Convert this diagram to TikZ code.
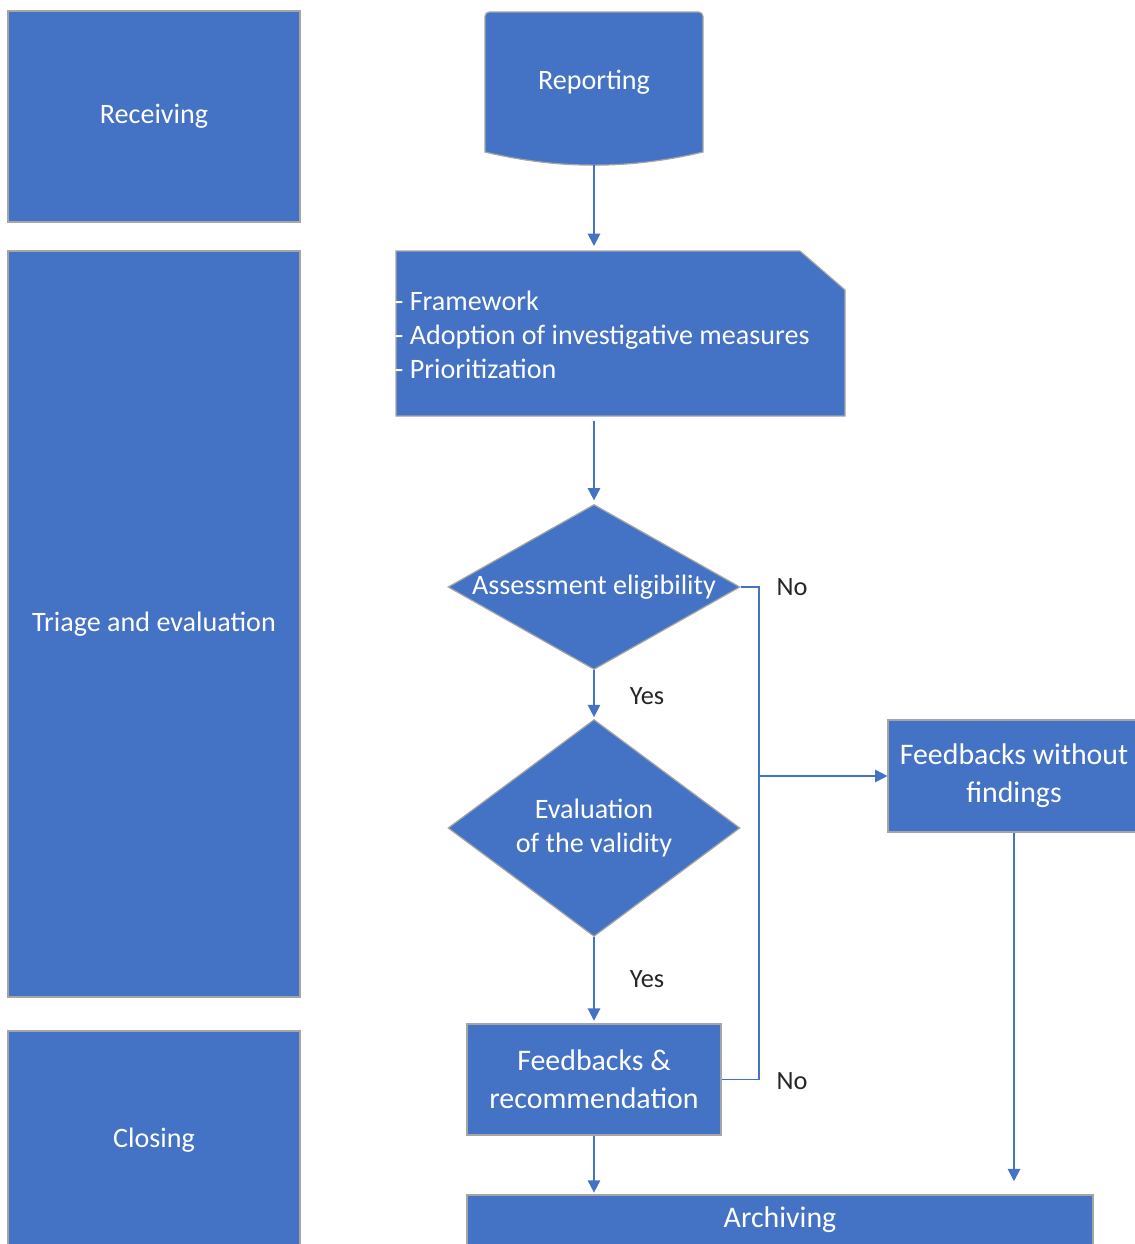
\documentclass[tikz,border=0pt]{standalone}
\usepackage{fontspec}
\setmainfont{Carlito}
\usetikzlibrary{shapes.geometric,arrows.meta}
\definecolor{boxblue}{HTML}{4472C4}
\definecolor{lineblue}{HTML}{4472C4}
\definecolor{boxline}{HTML}{A5A5A5}
\definecolor{lbltext}{HTML}{262626}
\newcommand\fsMain{\fontsize{16}{19.3}\selectfont}
\newcommand\fsBig{\fontsize{17}{21.5}\selectfont}
\newcommand\fsLbl{\fontsize{15}{18}\selectfont}
\tikzset{
  shapebox/.style={draw=boxline, fill=boxblue, line width=0.7pt},
  box/.style={shapebox, text=white, font=\fsMain, align=center, inner sep=0pt},
  lane/.style={box, minimum width=5.84cm},
  bigbox/.style={box, font=\fsBig},
  decision/.style={box, diamond, minimum width=5.84cm},
  plaintext/.style={text=white, font=\fsMain, inner sep=0pt},
  lbl/.style={text=lbltext, font=\fsLbl, inner sep=0pt},
  line/.style={draw=lineblue, line width=1.1pt},
  conn/.style={line, -{Triangle[length=7pt,width=7pt]}}
}
\begin{document}
\begin{tikzpicture}[x=0.02cm, y=-0.02cm]
\useasboundingbox (0,0) rectangle (1135,1244);
\clip (0,0) rectangle (1135,1244);

% lanes
\node[lane, minimum height=4.22cm] (recv) at (154,116.5) {Receiving};
\node[lane, minimum height=14.92cm] (triage) at (154,624) {Triage and evaluation};
\node[lane, minimum height=4.36cm] (closing) at (154,1140) {Closing};

% Reporting (document-like shape)
\filldraw[shapebox] [rounded corners=2.5pt] (485,152) -- (485,12) -- (703,12) [sharp corners] -- (703,152)
  .. controls (630,169.5) and (558,169.5) .. (485,152) -- cycle;
\node[plaintext] (rep) at (594,82) {Reporting};
\coordinate (repb) at (594,165);

% Framework box with cut corner
\filldraw[shapebox] (396,251) -- (800,251) -- (845,290) -- (845,416) -- (396,416) -- cycle;
\node[plaintext, anchor=west, align=left, font=\fsMain] (fw) at (394.5,335)
  {- Framework\\- Adoption of investigative measures\\- Prioritization};
\coordinate (fwt) at (594,246);
\coordinate (fwb) at (594,421);

% decisions
\node[decision, aspect=1.77, minimum height=3.3cm] (d1) at (594,587) {Assessment eligibility};
\node[decision, aspect=1.345, minimum height=4.34cm, font=\fontsize{16}{19.8}\selectfont] (d2) at (594,828) {Evaluation\\of the validity};

% outcome boxes
\node[bigbox, minimum width=5.08cm, minimum height=2.22cm] (fr) at (594,1079.5) {Feedbacks \&\\recommendation};
\node[bigbox, minimum width=5.04cm, minimum height=2.24cm] (fwf) at (1014,776) {Feedbacks without\\findings};
\node[bigbox, minimum width=12.52cm, minimum height=1.0cm] (arch) at (780,1220) {Archiving};

% connectors
\draw[conn] (repb) -- (fwt);
\draw[conn, shorten >=2pt] (fwb) -- (d1.north);
\draw[conn, shorten >=1pt] (d1.south) -- (d2.north);
\draw[conn, shorten >=1.5pt] (d2.south) -- (fr.north);
\draw[conn, shorten >=1pt] (fr.south) -- (fr.south |- arch.north);
\draw[conn, shorten >=7.5pt] (fwf.south) -- (fwf.south |- arch.north);
\draw[line] (d1.east) -- ++(18,0) coordinate (j1) |- (fr.east);
\draw[conn] (j1 |- fwf.west) -- (fwf.west);

% labels
\node[lbl] (yes1) at (647,696) {Yes};
\node[lbl] (yes2) at (647,979) {Yes};
\node[lbl] (no1) at (792,587) {No};
\node[lbl] (no2) at (792,1081) {No};
\end{tikzpicture}
\end{document}
